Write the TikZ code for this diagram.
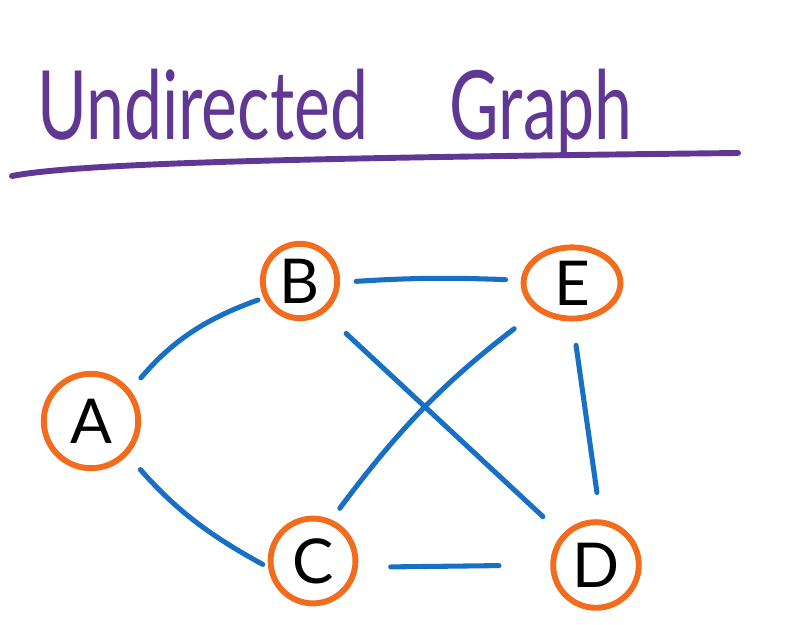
\documentclass[tikz,border=0pt]{standalone}
\usepackage{fontspec}
\setmainfont{Lato}
\usetikzlibrary{shapes.geometric}

\definecolor{graphpurple}{RGB}{96,56,148}
\definecolor{graphorange}{RGB}{242,108,30}
\definecolor{graphblue}{RGB}{24,112,196}

\tikzset{
  vertex/.style={circle, draw=graphorange, line width=2.1pt, inner sep=0pt, font=\fontsize{22}{24}\selectfont},
  link/.style={draw=graphblue, line width=1.8pt, line cap=round}
}

\begin{document}
\begin{tikzpicture}[x=0.0125cm,y=-0.0125cm]
\useasboundingbox (0,0) rectangle (800,625);

%title
\node[text=graphpurple, font=\fontsize{34}{36}\selectfont] (title) at (335,113) {\scalebox{0.71}[1]{Undirected\hspace{1.2em}Graph}};
\draw[graphpurple, line width=2.1pt, line cap=round] (12,176) .. controls (80,163) and (300,158) .. (738,153);

%vertices
\node[vertex, minimum size=1.18cm] (A) at (91,421) {A};
\node[vertex, minimum size=0.93cm] (B) at (300,281) {B};
\node[vertex, minimum size=1.06cm] (C) at (313,561) {C};
\node[vertex, minimum size=1.07cm] (D) at (596,565) {D};
\node[vertex, ellipse, minimum width=1.21cm, minimum height=0.89cm] (E) at (572,283) {E};

%edges
\draw[link, shorten <=0.2cm, shorten >=0.075cm] (A.38) to[bend left=15] (B.205);
\draw[link, shorten <=0.24cm, shorten >=0.075cm] (A.317) to[bend right=10] (C.188);
\draw[link, shorten <=0.2cm, shorten >=0.19cm] (B.-2) to[bend left=3] (E.177);
\draw[link, shorten <=0.375cm, shorten >=0.325cm] (B.307) -- (D.138);
\draw[link, shorten <=0.175cm, shorten >=0.36cm] (C.66) to[bend left=8] (E.219);
\draw[link, shorten <=0.3cm, shorten >=0.34cm] (E.271) -- (D.84);
\draw[link, shorten <=0.41cm, shorten >=0.64cm] (C.352) -- (D.180);
\end{tikzpicture}
\end{document}
